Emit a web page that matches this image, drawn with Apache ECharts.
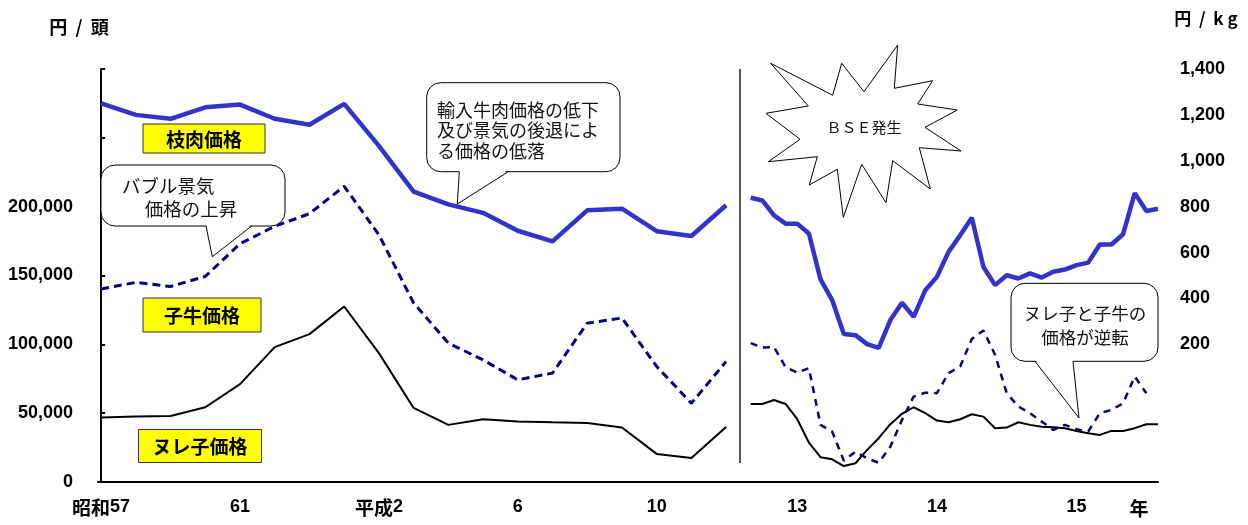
<!DOCTYPE html>
<html>
<head>
<meta charset="utf-8">
<script src="https://cdn.jsdelivr.net/npm/echarts@6/dist/echarts.min.js"></script>
<style>
  html, body { margin: 0; padding: 0; background: #ffffff; }
  #chart { width: 1248px; height: 525px; }
</style>
</head>
<body>
<div id="chart"></div>
<script>
// ---- 年次データ（昭和57年〜平成12年） ----
const annualYears = ['昭和57','58','59','60','61','62','63','平成元','2','3','4','5','6','7','8','9','10','11','12'];
const annualTickIndex = [0, 4, 8, 12, 16];
const annualTickText  = ['昭和57', '61', '平成2', '6', '10'];
// 枝肉価格（円/kg）
const annualCarcass = [1250,1200,1183,1233,1245,1183,1157,1248,1065,866,810,773,695,649,784,791,693,672,806];
// 子牛価格（円/頭）
const annualCalf = [140200,145000,142000,149300,173100,185700,194900,214800,179600,130000,100900,88700,74200,79100,115400,119100,83900,57200,87500];
// ヌレ子価格（円/頭）
const annualNureko = [46800,47500,48000,54300,71100,98000,107400,127500,93600,53800,41500,45500,44000,43400,42900,39600,20400,17500,40000];

// ---- 月次データ（平成13年〜15年） ----
const monthlyTickIndex = [4, 16, 28];
const monthlyTickText  = ['13', '14', '15'];
const monthlyCarcass = [839,827,762,726,726,683,483,393,245,240,201,185,306,381,320,436,494,603,675,752,537,458,501,487,509,491,516,526,545,556,635,635,680,859,781,791];
const monthlyCalf = [100900,97700,98000,83400,79500,82700,41500,36600,15500,22000,17200,14000,25700,45100,62000,64900,64500,79100,83900,103800,110000,92400,64500,54800,50000,43900,37800,41500,38300,36600,50000,52400,57200,76600,64500,null];
const monthlyNureko = [56700,56700,59600,56700,45600,28600,18000,16500,11600,13600,23300,31800,42000,49500,54300,50000,44600,43400,45600,49200,47500,39100,39500,43400,41500,40200,39800,39100,37100,35400,34200,37100,37100,39100,42000,42000];

// ---- 目盛り ----
const headTicksMax = 200000;   // 円/頭 の目盛りラベルはここまで
const kgTicksMin = 200;        // 円/kg の目盛りラベルはここから

const BLUE = '#3333CC';
const NAVY = '#000080';
const NUM_FONT = "'Liberation Sans', 'Noto Sans CJK JP', sans-serif";
const JP_FONT = "'Noto Sans CJK JP', sans-serif";

const pairs = arr => arr.map((v, i) => [i, v]);
// 年号部分（漢字）は少し大きめの書体で表示する
const lookup = (idx, txt) => v => {
  const k = idx.indexOf(Math.round(v));
  if (k < 0 || Math.abs(v - idx[k]) > 1e-6) return '';
  const m = txt[k].match(/^([^0-9]*)([0-9]*)$/);
  return (m[1] ? '{j|' + m[1] + '}' : '') + '{n|' + m[2] + '}';
};

const xAxisBase = {
  type: 'value',
  axisLine: { show: true, onZero: false, lineStyle: { color: '#000', width: 2 } },
  axisTick: { show: false },
  splitLine: { show: false },
  axisLabel: {
    color: '#000', margin: 16,
    rich: {
      j: { fontSize: 19, fontWeight: 'bold', fontFamily: JP_FONT, color: '#000' },
      n: { fontSize: 18, fontWeight: 'bold', fontFamily: NUM_FONT, color: '#000' }
    }
  }
};

const headAxis = { type: 'value', min: 0, max: 300000, interval: 50000, splitLine: { show: false } };
const kgAxis = { type: 'value', min: -400, max: 1400, interval: 200, splitLine: { show: false } };

// 吹き出し（角丸四角形＋しっぽ）
function callout(x, y, w, h, tail) {
  const by = y + h;
  return [
    { type: 'rect', shape: { x, y, width: w, height: h, r: 14 },
      style: { fill: '#fff', stroke: '#000', lineWidth: 1 }, z: 10 },
    { type: 'polygon', shape: { points: [[tail[0], by - 2], [tail[1], tail[2]], [tail[3], by - 2]] },
      style: { fill: '#fff', stroke: null }, z: 11 },
    { type: 'polyline', shape: { points: [[tail[0], by], [tail[1], tail[2]], [tail[3], by]] },
      style: { fill: null, stroke: '#000', lineWidth: 1 }, z: 12 }
  ];
}

function tag(x, y, w, h, text) {
  return [
    { type: 'rect', shape: { x, y, width: w, height: h },
      style: { fill: '#FFFF00', stroke: '#333', lineWidth: 1 }, z: 10 },
    { type: 'text', x: x + w / 2, y: y + h / 2 + 1, z: 11,
      style: { text, fill: '#000', font: "bold 19px 'Noto Sans CJK JP', sans-serif", align: 'center', verticalAlign: 'middle' } }
  ];
}

const burst = [
  [770.7,63.3],[832.7,95.3],[841.7,63.3],[864,91.7],[897.7,45],[894.3,88.3],
  [932.7,80.7],[917.7,104],[957.3,110],[925,127.3],[961,151],[919.3,147.7],
  [930.3,189],[892.7,160.7],[886,202.7],[861.7,164.3],[843.3,217.3],[837.3,169.3],
  [809.3,185],[817.3,156.7],[768.3,161.7],[800,139.3],[766,113.3],[808.3,106]
];

const chart = echarts.init(document.getElementById('chart'), null, { renderer: 'canvas' });

chart.setOption({
  backgroundColor: '#ffffff',
  animation: false,
  grid: [
    { left: 98, top: 69, width: 642, bottom: 43 },
    { left: 740, top: 69, width: 418, bottom: 43 }
  ],
  xAxis: [
    Object.assign({}, xAxisBase, { gridIndex: 0, min: -0.09, max: 18.4,
      axisLabel: Object.assign({}, xAxisBase.axisLabel, { customValues: annualTickIndex,
        formatter: lookup(annualTickIndex, annualTickText) }) }),
    Object.assign({}, xAxisBase, { gridIndex: 1, min: -0.92, max: 35,
      axisLabel: Object.assign({}, xAxisBase.axisLabel, { customValues: monthlyTickIndex,
        formatter: lookup(monthlyTickIndex, monthlyTickText) }) })
  ],
  yAxis: [
    Object.assign({}, headAxis, { gridIndex: 0, position: 'left',
      axisLine: { show: true, lineStyle: { color: '#000', width: 2 } },
      axisTick: { show: true, inside: true, length: 4, lineStyle: { color: '#000', width: 2 } },
      axisLabel: { color: '#000', fontSize: 18, fontWeight: 'bold', fontFamily: NUM_FONT, margin: 25,
        formatter: v => v <= headTicksMax ? v.toLocaleString('en-US') : '' } }),
    Object.assign({}, kgAxis, { gridIndex: 0, show: false }),
    Object.assign({}, headAxis, { gridIndex: 1, show: false }),
    Object.assign({}, kgAxis, { gridIndex: 1, position: 'right',
      axisLine: { show: false }, axisTick: { show: false },
      axisLabel: { color: '#000', fontSize: 18, fontWeight: 'bold', fontFamily: NUM_FONT, margin: 22,
        formatter: v => v >= kgTicksMin ? v.toLocaleString('en-US') : '' } })
  ],
  series: [
    { name: 'ヌレ子価格', type: 'line', xAxisIndex: 0, yAxisIndex: 0, data: pairs(annualNureko),
      symbol: 'none', lineStyle: { color: '#000', width: 2 }, z: 3 },
    { name: '子牛価格', type: 'line', xAxisIndex: 0, yAxisIndex: 0, data: pairs(annualCalf),
      symbol: 'none', lineStyle: { color: NAVY, width: 3, type: [8, 5] }, z: 3 },
    { name: '枝肉価格', type: 'line', xAxisIndex: 0, yAxisIndex: 1, data: pairs(annualCarcass),
      symbol: 'none', lineStyle: { color: BLUE, width: 4.5 }, z: 4 },
    { name: 'ヌレ子価格', type: 'line', xAxisIndex: 1, yAxisIndex: 2, data: pairs(monthlyNureko),
      symbol: 'none', lineStyle: { color: '#000', width: 2 }, z: 3 },
    { name: '子牛価格', type: 'line', xAxisIndex: 1, yAxisIndex: 2, data: pairs(monthlyCalf),
      symbol: 'none', connectNulls: false, lineStyle: { color: NAVY, width: 2.5, type: [7, 6] }, z: 3 },
    { name: '枝肉価格', type: 'line', xAxisIndex: 1, yAxisIndex: 3, data: pairs(monthlyCarcass),
      symbol: 'none', lineStyle: { color: BLUE, width: 4.5 }, z: 4 }
  ],
  graphic: [
    // 単位
    { type: 'text', x: 79, y: 27, style: { text: '円  /  頭', fill: '#000', font: "bold 18px 'Noto Sans CJK JP', sans-serif", align: 'center', verticalAlign: 'middle' } },
    { type: 'text', x: 1206, y: 19, style: { text: '円  /  k g', fill: '#000', font: "bold 17px 'Noto Sans CJK JP', sans-serif", align: 'center', verticalAlign: 'middle' } },
    { type: 'text', x: 1139, y: 509, style: { text: '年', fill: '#000', font: "bold 19px 'Noto Sans CJK JP', sans-serif", align: 'center', verticalAlign: 'middle' } },
    // 年次と月次の区切り
    { type: 'line', shape: { x1: 740, y1: 69, x2: 740, y2: 463 }, style: { stroke: '#222', lineWidth: 1.5 }, z: 5 },
    // 系列名
    ...tag(143, 124, 122, 29, '枝肉価格'),
    ...tag(143, 298, 118, 34, '子牛価格'),
    ...tag(138.5, 429.5, 123, 33, 'ヌレ子価格'),
    // 吹き出し
    ...callout(101, 165, 184, 61, [206, 212.3, 256.7, 251.7]),
    { type: 'text', x: 122, y: 174, z: 13, style: { text: 'バブル景気\n　 価格の上昇', fill: '#111', font: "18.5px 'Noto Sans CJK JP', sans-serif", lineHeight: 23, align: 'left', verticalAlign: 'top' } },
    ...callout(426.7, 82.7, 193.3, 89, [459.3, 457.3, 204, 508.3]),
    { type: 'text', x: 437, y: 99.5, z: 13, style: { text: '輸入牛肉価格の低下\n及び景気の後退によ\nる価格の低落', fill: '#111', font: "18px 'Noto Sans CJK JP', sans-serif", lineHeight: 20.5, align: 'left', verticalAlign: 'top' } },
    ...callout(1011, 283.3, 147, 78, [1035, 1079, 418, 1073]),
    { type: 'text', x: 1085, y: 301.3, z: 13, style: { text: 'ヌレ子と子牛の\n価格が逆転', fill: '#111', font: "17.5px 'Noto Sans CJK JP', sans-serif", lineHeight: 24, align: 'center', verticalAlign: 'top' } },
    // ＢＳＥ発生
    { type: 'polygon', shape: { points: burst }, style: { fill: '#fff', stroke: '#000', lineWidth: 1 }, z: 10 },
    { type: 'text', x: 864, y: 127, z: 11, style: { text: 'ＢＳＥ発生', fill: '#111', font: "15px 'Noto Sans CJK JP', sans-serif", align: 'center', verticalAlign: 'middle' } }
  ]
});
</script>
</body>
</html>
